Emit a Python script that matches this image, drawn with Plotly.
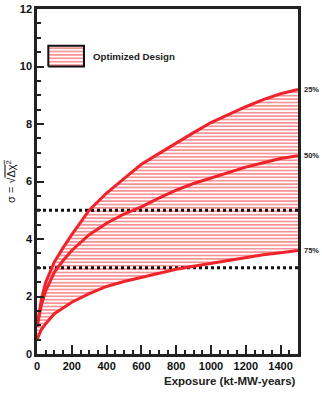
import plotly.graph_objects as go

exposure = [0, 25, 50, 100, 150, 200, 300, 400, 500, 600, 700, 800, 900, 1000, 1100, 1200, 1300, 1400, 1500]
sigma_25 = [0.95, 1.9, 2.5, 3.2, 3.7, 4.15, 5.0, 5.6, 6.1, 6.6, 6.97, 7.35, 7.7, 8.05, 8.33, 8.6, 8.85, 9.05, 9.2]
sigma_50 = [0.95, 1.7, 2.2, 2.85, 3.25, 3.6, 4.15, 4.55, 4.87, 5.12, 5.42, 5.7, 5.93, 6.12, 6.3, 6.5, 6.65, 6.8, 6.9]
sigma_75 = [0.5, 0.85, 1.05, 1.4, 1.6, 1.8, 2.1, 2.35, 2.52, 2.67, 2.82, 2.95, 3.05, 3.15, 3.25, 3.35, 3.45, 3.52, 3.6]
curve_labels = ["25%", "50%", "75%"]
ref_levels = [3, 5]

# legend box corners (data units)
legend_x = [65, 270, 270, 65, 65]
legend_y = [10.0, 10.0, 10.72, 10.72, 10.0]

RED = "#f0222a"
hatch = dict(shape="-", fgcolor="#f03038", bgcolor="white", size=3.4, solidity=0.35, fgopacity=0.75)

fig = go.Figure()

# hatched band between 25% and 75%
fig.add_trace(go.Scatter(
    x=exposure + exposure[::-1],
    y=sigma_25 + sigma_75[::-1],
    fill="toself", fillpattern=hatch, fillcolor="white",
    line=dict(width=0), mode="lines", hoverinfo="skip", showlegend=False,
))

for lvl in ref_levels:
    fig.add_trace(go.Scatter(
        x=[exposure[0], exposure[-1]], y=[lvl, lvl], mode="lines",
        line=dict(color="#111", width=3, dash="3px,3px"), showlegend=False,
    ))

for ys in (sigma_25, sigma_50, sigma_75):
    fig.add_trace(go.Scatter(
        x=exposure, y=ys, mode="lines",
        line=dict(color=RED, width=3), showlegend=False,
    ))

# hand-drawn legend
fig.add_trace(go.Scatter(
    x=legend_x, y=legend_y, mode="lines", fill="toself",
    fillpattern=hatch, fillcolor="white",
    line=dict(color="#111", width=2), showlegend=False, hoverinfo="skip",
))
fig.add_annotation(x=310, y=10.36, text="<b>Optimized Design</b>", showarrow=False,
                   xanchor="left", font=dict(size=9.7, color="#222"))

for lbl, ys in zip(curve_labels, (sigma_25, sigma_50, sigma_75)):
    fig.add_annotation(x=exposure[-1], y=ys[-1], text=f"<b>{lbl}</b>", showarrow=False,
                       xanchor="left", xshift=4, font=dict(size=7.5, color="#222"))

# x title, right-aligned under the axis
fig.add_annotation(xref="paper", yref="paper", x=1, y=0, xanchor="right", yanchor="top",
                   yshift=-19, text="<b>Exposure (kt-MW-years)</b>", showarrow=False,
                   font=dict(size=11.5, color="#222"))

fig.update_layout(
    width=322, height=394,
    margin=dict(l=37, r=24, t=9, b=40),
    plot_bgcolor="white", paper_bgcolor="white",
    font=dict(family="Liberation Sans, Arial, sans-serif", color="#111"),
    showlegend=False,
)
fig.update_xaxes(
    range=[0, 1500], showgrid=False, zeroline=False, automargin=False,
    showline=True, linecolor="#222", linewidth=2.5, mirror=True,
    ticks="inside", ticklen=9, tickwidth=2, tickcolor="#222",
    tickvals=[0, 200, 400, 600, 800, 1000, 1200, 1400],
    ticktext=["<b>%d</b>" % v for v in [0, 200, 400, 600, 800, 1000, 1200, 1400]],
    tickfont=dict(size=11),
    minor=dict(ticks="inside", ticklen=4, tickwidth=2, tickcolor="#222", dtick=50),
)
fig.update_yaxes(
    range=[0, 12], showgrid=False, zeroline=False, automargin=False,
    showline=True, linecolor="#222", linewidth=2.5, mirror=True,
    ticks="inside", ticklen=7, tickwidth=2, tickcolor="#222",
    tickvals=[0, 2, 4, 6, 8, 10, 12],
    ticktext=["<b>%d</b>" % v for v in [0, 2, 4, 6, 8, 10, 12]],
    tickfont=dict(size=11),
    minor=dict(ticks="inside", ticklen=4, tickwidth=2, tickcolor="#222", dtick=0.5),
    title=dict(text="σ = √<span style=\"text-decoration:overline\">Δχ<sup>2</sup></span>",
               font=dict(size=11), standoff=2),
)

# page body has an 8px default margin; drop it so the figure fills the window
fig.write_html("out.html", config={"displayModeBar": False},
               post_script="document.body.style.margin='0';")
